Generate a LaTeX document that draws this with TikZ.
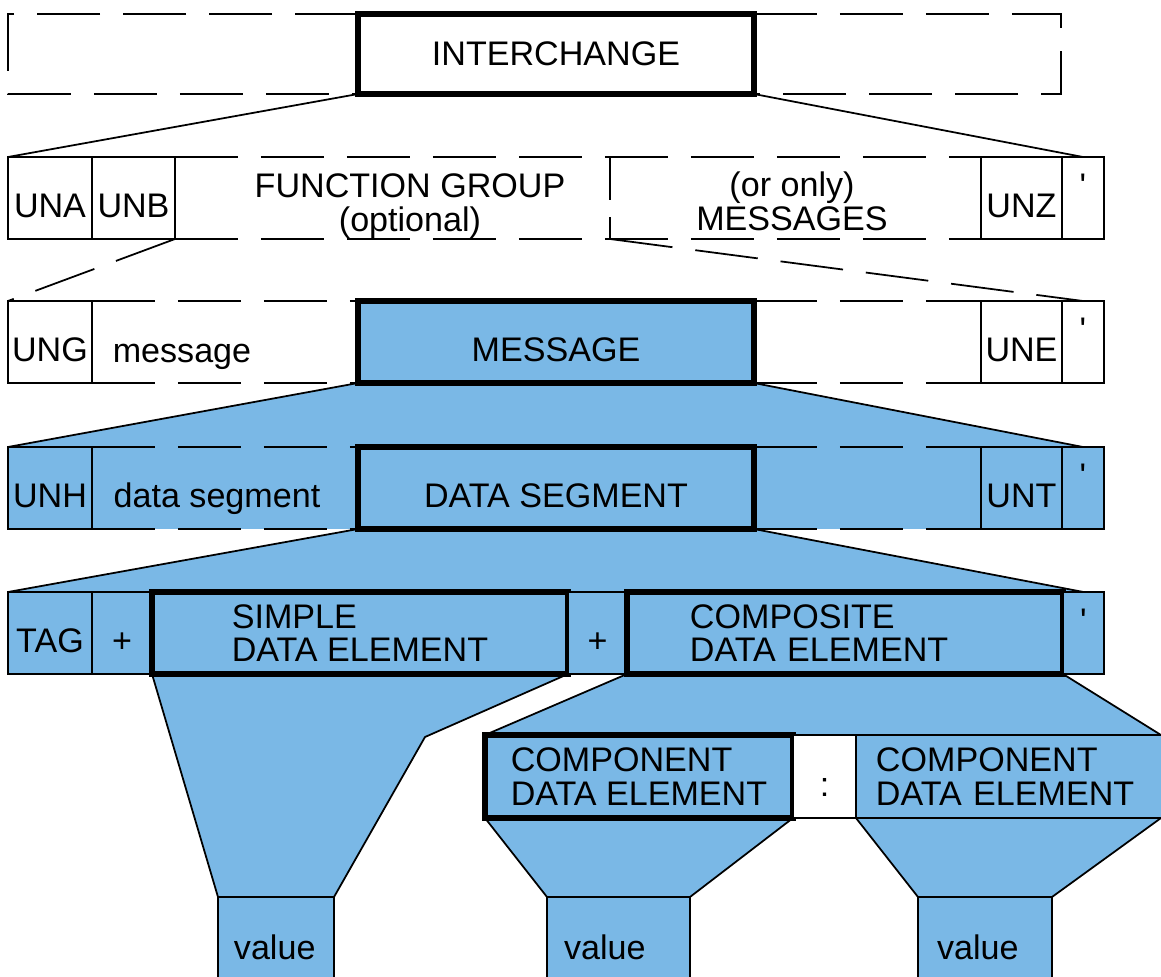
\documentclass[tikz,border=0pt]{standalone}
\usepackage{fontspec}
\newfontfamily\edifont{Liberation Sans}
\usetikzlibrary{positioning,backgrounds}
\definecolor{ediblue}{RGB}{122,184,230}
\newcommand{\edisize}{\edifont\fontsize{9.7pt}{9.6pt}\selectfont}

\begin{document}
\begin{tikzpicture}[x=0.1mm,y=-0.1mm,font=\edisize]
	\tikzstyle{box}=[rectangle, draw=black, line width=0.5pt, inner sep=0pt, outer sep=0pt, anchor=north west, minimum height=8.2mm]
	\tikzstyle{low}=[text height=3.9mm, text depth=0mm]
	\tikzstyle{tick}=[text height=2.6mm, text depth=2.8mm]
	\tikzstyle{heavy}=[line width=1.7pt]
	\tikzstyle{tinted}=[fill=ediblue]
	\tikzstyle{dash line}=[line width=0.5pt, dash pattern=on 6.3mm off 2.3mm]
	\tikzstyle{edge line}=[line width=0.5pt]

	\useasboundingbox (0,0) rectangle (1161,977);
	\clip (0,0) rectangle (1161,977);

	% interchange
	\node [box,heavy,minimum width=39.6mm,minimum height=8mm] (ichg) at (358,14) {INTERCHANGE};
	\draw [dash line] (ichg.north west) -- ++(-350,0) |- (ichg.south west);
	\draw [dash line] (ichg.north east) -- ++(307,0) |- (ichg.south east);

	% service segments and groups
	\node [box,low,minimum width=8.4mm] (una) at (8,157) {UNA};
	\node [box,low,minimum width=8.3mm] (unb) [right=0mm of una] {UNB};
	\node [box,low,minimum width=8.1mm] (unz) at (981,157) {UNZ};
	\node [box,tick,minimum width=4.2mm] (apA) [right=0mm of unz] {'};
	\draw [dash line] (unb.north east) -- (unz.north west);
	\draw [dash line] (unb.south east) -- (unz.south west);
	\coordinate (fgtop) at (610,157);
	\coordinate (fgbot) at (610,239);
	\draw [dash line,dash pattern=on 4.3mm off 1.7mm] (fgtop) -- (fgbot);
	\node [align=center] (fgtxt) at (410,206) {FUNCTION GROUP\\(optional)};
	\node [align=center] (mtxt) at (792,201) {(or only)\\MESSAGES};

	% group
	\node [box,low,minimum width=8.4mm] (ung) at (8,301) {UNG};
	\node [box,heavy,tinted,low,minimum width=39.6mm] (msg) at (358,301) {MESSAGE};
	\node [box,low,minimum width=8.1mm] (une) at (981,301) {UNE};
	\node [box,tick,minimum width=4.2mm] (apB) [right=0mm of une] {'};
	\draw [dash line] (ung.north east) -- (msg.north west);
	\draw [dash line] (ung.south east) -- (msg.south west);
	\draw [dash line] (msg.north east) -- (une.north west);
	\draw [dash line] (msg.south east) -- (une.south west);
	\node [low] (msgtxt) at (182,343) {message};

	% message
	\node [box,tinted,low,minimum width=8.4mm] (unh) at (8,447) {UNH};
	\node [box,heavy,tinted,low,minimum width=39.6mm] (dseg) at (358,447) {DATA SEGMENT};
	\node [box,tinted,low,minimum width=8.1mm] (unt) at (981,447) {UNT};
	\node [box,tinted,tick,minimum width=4.2mm] (apC) [right=0mm of unt] {'};
	\draw [dash line] (unh.north east) -- (dseg.north west);
	\draw [dash line] (unh.south east) -- (dseg.south west);
	\draw [dash line] (dseg.north east) -- (unt.north west);
	\draw [dash line] (dseg.south east) -- (unt.south west);
	\node [low] (dstxt) at (217,488) {data segment};

	% segment
	\node [box,tinted,low,minimum width=8.4mm] (tag) at (8,592) {TAG};
	\node [box,tinted,low,minimum width=6mm] (plA) [right=0mm of tag] {+};
	\node [box,heavy,tinted,align=left,minimum width=41.6mm] (sde) [right=0mm of plA] {SIMPLE\\DATA ELEMENT};
	\node [box,tinted,low,minimum width=5.9mm] (plB) [right=0mm of sde] {+};
	\node [box,heavy,tinted,align=left,text width=31mm,minimum width=43.6mm] (cde) [right=0mm of plB] {COMPOSITE\\DATA ELEMENT};
	\node [box,tinted,tick,minimum width=4.1mm] (apD) [right=0mm of cde] {'};

	% components
	\node [box,heavy,tinted,align=left,minimum width=30.8mm,minimum height=8.3mm] (cmpA) at (485,735) {COMPONENT\\DATA ELEMENT};
	\node [box,fill=white,low,minimum width=6.3mm,minimum height=8.3mm] (colon) [right=0mm of cmpA] {:};
	\node [box,tinted,align=left,text width=30.4mm,minimum width=34.4mm,minimum height=8.3mm] (cmpB) [right=0mm of colon] {COMPONENT\\DATA ELEMENT};

	% values
	\node [box,tinted,align=left,text width=8.4mm,minimum width=11.6mm,minimum height=10mm] (valA) at (218,897) {value};
	\node [box,tinted,align=left,text width=10.9mm,minimum width=14.3mm,minimum height=10mm] (valB) at (547,897) {value};
	\node [box,tinted,align=left,text width=9.6mm,minimum width=13.4mm,minimum height=10mm] (valC) at (918,897) {value};

	\coordinate (sbend) at (425,737);
	\coordinate (cright) at (1161,735);
	\coordinate (cbright) at (1161,818);

	\begin{pgfonlayer}{background}
		\fill [ediblue] (unh.north west) rectangle (apC.south east);
		\fill [ediblue] (msg.south west) -- (unh.north west) -- (apC.north) -- (msg.south east) -- cycle;
		\fill [ediblue] (dseg.south west) -- (tag.north west) -- (apD.north) -- (dseg.south east) -- cycle;
		\fill [ediblue] (sde.south west) -- (valA.north west) -- (valA.north east) -- (sbend) -- (sde.south east) -- cycle;
		\fill [ediblue] (cde.south west) -- (cmpA.north west) -- (cright) -- (apD.south west) -- cycle;
		\fill [ediblue] (cmpA.south west) -- (valB.north west) -- (valB.north east) -- (cmpA.south east) -- cycle;
		\fill [ediblue] (cmpB.south west) -- (valC.north west) -- (valC.north east) -- (cbright) -- cycle;
	\end{pgfonlayer}

	% expansion lines
	\draw [edge line] (ichg.south west) -- (una.north west);
	\draw [edge line] (ichg.south east) -- (apA.north);
	\draw [dash line] (unb.south east) -- (ung.north west);
	\draw [dash line] (fgbot) -- (apB.north);
	\draw [edge line] (msg.south west) -- (unh.north west);
	\draw [edge line] (msg.south east) -- (apC.north);
	\draw [edge line] (dseg.south west) -- (tag.north west);
	\draw [edge line] (dseg.south east) -- (apD.north);
	\draw [edge line] (sde.south west) -- (valA.north west);
	\draw [edge line] (sde.south east) -- (sbend) -- (valA.north east);
	\draw [edge line] (cde.south west) -- (cmpA.north west);
	\draw [edge line] (apD.south west) -- (cright);
	\draw [edge line] (cmpA.south west) -- (valB.north west);
	\draw [edge line] (cmpA.south east) -- (valB.north east);
	\draw [edge line] (cmpB.south west) -- (valC.north west);
	\draw [edge line] (cbright) -- (valC.north east);
\end{tikzpicture}
\end{document}
